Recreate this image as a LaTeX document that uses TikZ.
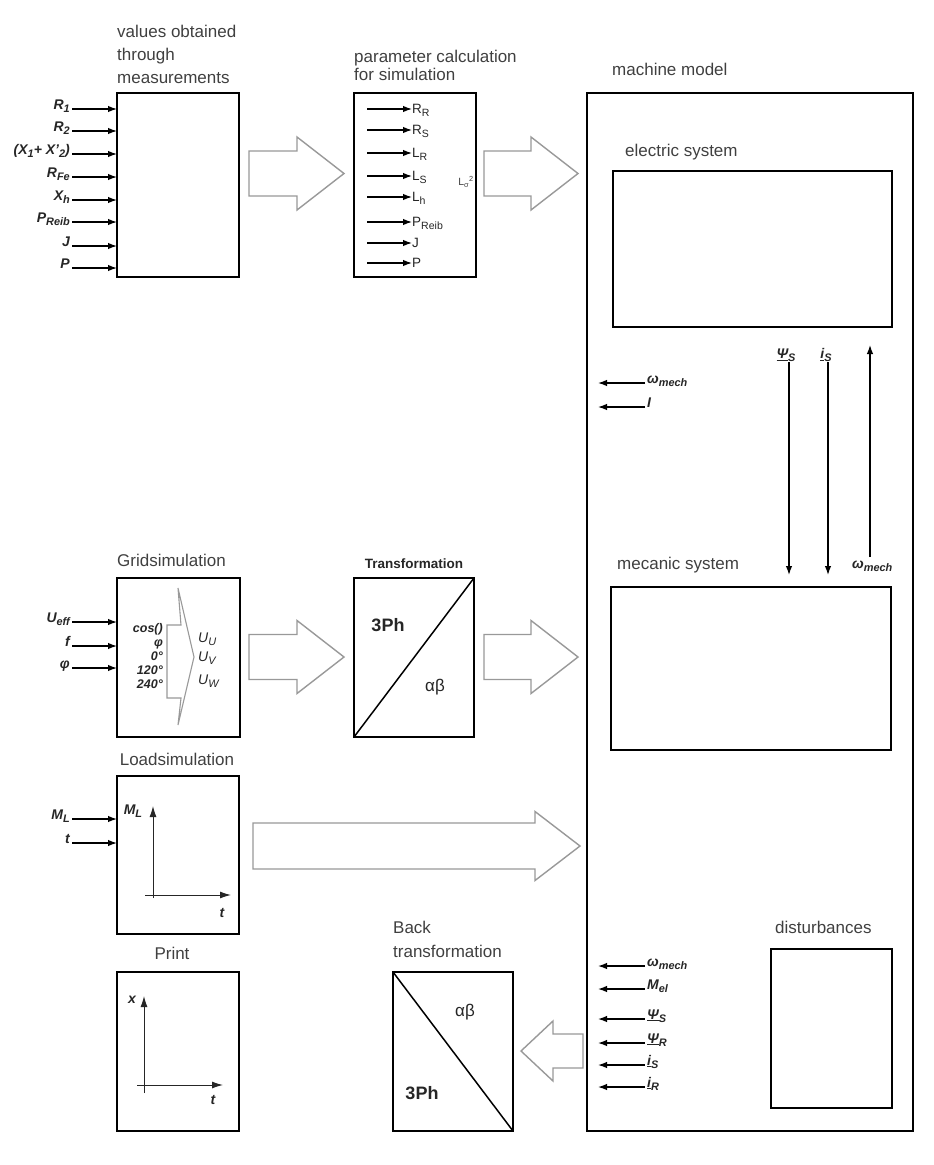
\documentclass[tikz,border=0pt]{standalone}
\usepackage{fontspec}
\setmainfont{Liberation Sans}
\usetikzlibrary{arrows.meta}
\newcommand\sbx[1]{\raisebox{-0.45ex}{\scalebox{0.78}{#1}}}
\newcommand\vsub[2]{\textit{#1}\sbx{\textit{#2}}}
\newcommand\holarrow[6]{\draw[hol] (#1,#3-#4) -- (#2-#6,#3-#4) -- (#2-#6,#3-#5) -- (#2,#3) -- (#2-#6,#3+#5) -- (#2-#6,#3+#4) -- (#1,#3+#4) -- cycle;}
\newcommand\inp[4]{\node[var, anchor=base east] (#1) at (70,#2) {#3};
  \draw[arr] ([xshift=2pt]#1.base east) -- (#1.base east -| #4.west);}
\newcommand\pin[3]{\coordinate (#1s) at (367,#2);
  \node[pvar] (#1) at (412,#2+4) {#3};
  \draw[arr] (#1s) -- (#1s -| #1.west);}
\newcommand\outl[3]{\node[var, anchor=base west] (#1) at (647,#2) {#3};
  \draw[arr] ([xshift=-2pt]#1.base west) -- ([xshift=11pt]#1.base west -| mach.west);}
\begin{document}
\begin{tikzpicture}[x=1pt,y=-1pt,
 blk/.style={draw, line width=2.3pt, anchor=north west, inner sep=0pt, outer sep=0pt},
 ttl/.style={font=\fontsize{17}{20}\selectfont, text=black!75, inner sep=0pt, anchor=base west},
 var/.style={font=\fontsize{14}{15}\selectfont\bfseries\itshape, text=black!85, inner sep=0pt},
 pvar/.style={font=\fontsize{13.5}{14}\selectfont, text=black!85, inner sep=0pt, anchor=base west},
 uvar/.style={font=\fontsize{14}{15}\selectfont\itshape, text=black!85, inner sep=0pt, anchor=base west},
 arr/.style={-{Latex[length=9pt,width=6.5pt]}, line width=1.3pt},
 axarr/.style={-{Latex[length=11pt,width=7pt]}, line width=1pt, black!85},
 hol/.style={draw=black!40, line width=1.4pt, line join=miter},
]
\useasboundingbox (0,0) rectangle (934,1165);
\fill[white] (0,0) rectangle (934,1165);

% ---------- boxes ----------
\node[blk, minimum width=122pt, minimum height=184pt] (meas) at (117,93) {};
\node[blk, minimum width=122pt, minimum height=184pt] (param) at (354,93) {};
\node[blk, line width=2pt, minimum width=326pt, minimum height=1038pt] (mach) at (587,93) {};
\node[blk, minimum width=279pt, minimum height=156pt] (elec) at (613,171) {};
\node[blk, minimum width=280pt, minimum height=163pt] (mech) at (611,587) {};
\node[blk, minimum width=123pt, minimum height=159pt] (grid) at (117,578) {};
\node[blk, minimum width=120pt, minimum height=159pt] (trans) at (354,578) {};
\node[blk, minimum width=122pt, minimum height=158pt] (load) at (117,776) {};
\node[blk, minimum width=122pt, minimum height=159pt] (print) at (117,972) {};
\node[blk, minimum width=120pt, minimum height=159pt] (back) at (393,972) {};
\node[blk, minimum width=121pt, minimum height=159pt] (dist) at (771,949) {};

% ---------- titles ----------
\node[ttl] (t1a) at (117,37) {values obtained};
\node[ttl] (t1b) at (117,60) {through};
\node[ttl] (t1c) at (117,83) {measurements};
\node[ttl] (t2a) at (354,62) {parameter calculation};
\node[ttl] (t2b) at (354,80) {for simulation};
\node[ttl] (t3) at (612,75) {machine model};
\node[ttl] (t4) at (625,156) {electric system};
\node[ttl] (t5) at (617,569) {mecanic system};
\node[ttl] (t6) at (775,933) {disturbances};
\node[ttl] (t7) at (117,566) {Gridsimulation};
\node[ttl, anchor=base] (t8) at (177,765) {Loadsimulation};
\node[ttl, anchor=base] (t9) at (172,959) {Print};
\node[ttl] (t10a) at (393,933) {Back};
\node[ttl] (t10b) at (393,957) {transformation};
\node[ttl, anchor=base, font=\fontsize{13.5}{15}\selectfont\bfseries, text=black!85] (t11) at (414,568) {Transformation};

% ---------- measurement inputs ----------
\inp{iR1}{109}{\vsub{R}{1}}{meas}
\inp{iR2}{131}{\vsub{R}{2}}{meas}
\inp{iX}{154}{\textit{(X}\sbx{\textit{1}}\textit{+ X'}\sbx{\textit{2}}\textit{)}}{meas}
\inp{iRFe}{177}{\vsub{R}{Fe}}{meas}
\inp{iXh}{200}{\vsub{X}{h}}{meas}
\inp{iPR}{222}{\vsub{P}{Reib}}{meas}
\inp{iJ}{246}{\textit{J}}{meas}
\inp{iP}{268}{\textit{P}}{meas}

% ---------- parameter outputs ----------
\pin{pRR}{109}{R\sbx{R}}
\pin{pRS}{130}{R\sbx{S}}
\pin{pLR}{153}{L\sbx{R}}
\pin{pLS}{176}{L\sbx{S}}
\pin{pLh}{197}{L\sbx{h}}
\pin{pPR}{222}{P\sbx{Reib}}
\pin{pJ}{243}{J}
\pin{pP}{263}{P}
\node[font=\fontsize{10.5}{10}\selectfont, text=black!75, inner sep=0pt] (lsig) at (466,182) {L\textsubscript{σ}\textsuperscript{2}};

% ---------- hollow arrows ----------
\holarrow{249}{344}{173.5}{22.5}{36.5}{47}
\holarrow{484}{578}{173.5}{22.5}{36.5}{47}
\holarrow{249}{344}{657}{22.5}{36.5}{47}
\holarrow{484}{578}{657}{22.5}{36.5}{47}
\holarrow{253}{580}{846}{23}{34.5}{45}
\holarrow{583}{521}{1051}{17}{30}{-32}

% ---------- electric / mechanic ----------
\node[var, anchor=south] (vpsi) at (786,362) {\underline{\textit{Ψ}}\sbx{\textit{S}}};
\node[var, anchor=south] (vis) at (826,362) {\underline{\textit{i}}\sbx{\textit{S}}};
\draw[arr, shorten >=12pt] ([xshift=3pt]vpsi.south) -- ([xshift=3pt]vpsi.south |- mech.north);
\draw[arr, shorten >=12pt] ([xshift=2pt]vis.south) -- ([xshift=2pt]vis.south |- mech.north);
\node[var, anchor=base west] (vwm) at (852,568) {\textit{ω}\sbx{\textit{mech}}};
\coordinate (wA) at (870,557);
\draw[arr, shorten >=18pt] (wA) -- (wA |- elec.south);

\outl{oW1}{383}{\textit{ω}\sbx{\textit{mech}}}
\outl{oI}{407}{\textit{I}}

% ---------- grid simulation ----------
\inp{iU}{622}{\vsub{U}{eff}}{grid}
\inp{iF}{646}{\textit{f}}{grid}
\inp{iPhi}{668}{\textit{φ}}{grid}
\node[font=\fontsize{12.5}{14.2}\selectfont\bfseries\itshape, text=black!85, align=right, inner sep=0pt, anchor=east] (gcol) at (163,656) {cos()\\φ\\0°\\120°\\240°};
\draw[hol, line width=1.1pt] (167,625) -- (181,625) -- (178,588) -- (194,657) -- (178,725) -- (181,698) -- (167,698) -- cycle;
\node[uvar] (uU) at (198,642) {\vsub{U}{U}};
\node[uvar] (uV) at (198,661) {\vsub{U}{V}};
\node[uvar] (uW) at (198,684) {\vsub{U}{W}};

% ---------- transformation ----------
\draw[line width=1.5pt] (trans.south west) -- (trans.north east);
\node[font=\fontsize{18}{20}\selectfont\bfseries, text=black!85, inner sep=0pt] (t3ph) at (388,625) {3Ph};
\node[font=\fontsize{17}{20}\selectfont, text=black!85, inner sep=0pt] (tab) at (435,687) {αβ};

% ---------- load simulation ----------
\inp{iML}{819}{\vsub{M}{L}}{load}
\inp{iT}{843}{\textit{t}}{load}
\node[var] (lml) at (133,811) {\vsub{M}{L}};
\draw[axarr] (153,898) -- (153,806);
\draw[axarr] (145,895) -- (231,895);
\node[var] (lt) at (222,913) {\textit{t}};

% ---------- print ----------
\draw[axarr] (144,1093) -- (144,996);
\draw[axarr] (137,1085) -- (223,1085);
\node[var] (px) at (132,1000) {\textit{x}};
\node[var] (pt) at (213,1100) {\textit{t}};

% ---------- back transformation ----------
\draw[line width=1.5pt] (back.north west) -- (back.south east);
\node[font=\fontsize{17}{20}\selectfont, text=black!85, inner sep=0pt] (bab) at (465,1012) {αβ};
\node[font=\fontsize{18}{20}\selectfont\bfseries, text=black!85, inner sep=0pt] (b3ph) at (422,1093) {3Ph};

% ---------- machine bottom outputs ----------
\outl{oW2}{966}{\textit{ω}\sbx{\textit{mech}}}
\outl{oM}{989}{\vsub{M}{el}}
\outl{oPS}{1019}{\underline{\textit{Ψ}}\sbx{\textit{S}}}
\outl{oPR}{1043}{\underline{\textit{Ψ}}\sbx{\textit{R}}}
\outl{oIS}{1065}{\underline{\textit{i}}\sbx{\textit{S}}}
\outl{oIR}{1087}{\underline{\textit{i}}\sbx{\textit{R}}}
\end{tikzpicture}
\end{document}
